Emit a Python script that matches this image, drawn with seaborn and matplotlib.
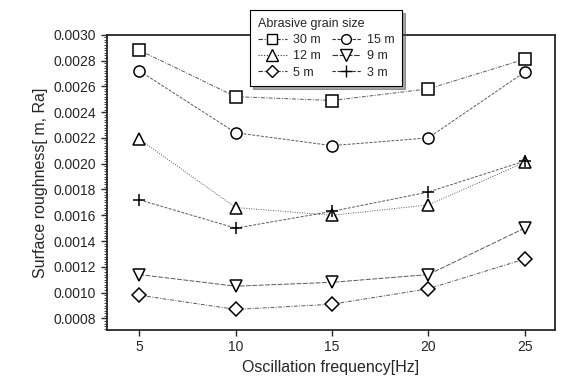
import pandas as pd
import matplotlib
matplotlib.use("Agg")
import matplotlib.pyplot as plt
import seaborn as sns
from matplotlib.lines import Line2D
from matplotlib.ticker import MultipleLocator

# data
freq = [5, 10, 15, 20, 25]
labels = ["30 m", "15 m", "12 m", "9 m", "5 m", "3 m"]
g30 = [0.00288, 0.00252, 0.00249, 0.00258, 0.00281]
g15 = [0.00272, 0.00224, 0.00214, 0.00220, 0.00271]
g12 = [0.00219, 0.00166, 0.00160, 0.00168, 0.00201]
g9 = [0.00114, 0.00105, 0.00108, 0.00114, 0.00150]
g5 = [0.00098, 0.00087, 0.00091, 0.00103, 0.00126]
g3 = [0.00172, 0.00150, 0.00163, 0.00178, 0.00202]

series = [g30, g15, g12, g9, g5, g3]
markers = ["s", "o", "^", "v", "D", "+"]
sizes = [8, 8, 9, 9, 7, 9]
dashes = [(4, 1.5, 1, 1.5), (3, 1.5), (1, 1.5), (5, 1.5), (4, 1.5, 1, 1.5), (3, 1.5)]

sns.set_style("ticks")
plt.rcParams["font.family"] = ["Liberation Sans", "DejaVu Sans"]

fig, ax = plt.subplots(figsize=(5.61, 3.86), dpi=100)
fig.subplots_adjust(left=0.19, right=0.99, top=0.91, bottom=0.145)

for lab, vals, m, ms, d in zip(labels, series, markers, sizes, dashes):
    df = pd.DataFrame({"freq": freq, "ra": vals})
    sns.lineplot(data=df, x="freq", y="ra", ax=ax, color="0.35", lw=0.7,
                 marker=m, markersize=ms, markerfacecolor="white",
                 markeredgecolor="black", markeredgewidth=1.1,
                 dashes=d, legend=False)

ax.set_xlim(3.3, 26.6)
ax.set_ylim(0.00071, 0.0030)
ax.set_xticks(freq)
ax.yaxis.set_major_locator(MultipleLocator(0.0002))
ax.yaxis.set_major_formatter(matplotlib.ticker.FormatStrFormatter("%.4f"))
ax.yaxis.set_minor_locator(MultipleLocator(0.00002))
ax.tick_params(axis="both", labelsize=10, direction="out", length=4, width=1)
ax.tick_params(axis="y", which="minor", length=2, width=0.6)
for s in ax.spines.values():
    s.set_linewidth(1.3)
ax.set_xlabel("Oscillation frequency[Hz]", fontsize=11.5)
ax.set_ylabel("Surface roughness[ m, Ra]", fontsize=11.5)

handles = [Line2D([0], [0], color="0.2", lw=0.8, marker=m, markersize=ms - 1,
                  markerfacecolor="white", markeredgecolor="black", dashes=d)
           for m, ms, d in zip(markers, sizes, dashes)]
order = [0, 2, 4, 1, 3, 5]
leg = fig.legend([handles[i] for i in order], [labels[i] for i in order],
                 ncol=2, title="Abrasive grain size", fontsize=9, title_fontsize=9,
                 loc="upper left", bbox_to_anchor=(0.435, 0.99), frameon=True,
                 fancybox=False, shadow=True, edgecolor="black",
                 handlelength=2.3, handletextpad=0.5, columnspacing=0.9,
                 labelspacing=0.35, borderpad=0.6)
leg._legend_box.align = "left"
leg.get_frame().set_linewidth(0.8)

fig.savefig("out.png", dpi=100)
